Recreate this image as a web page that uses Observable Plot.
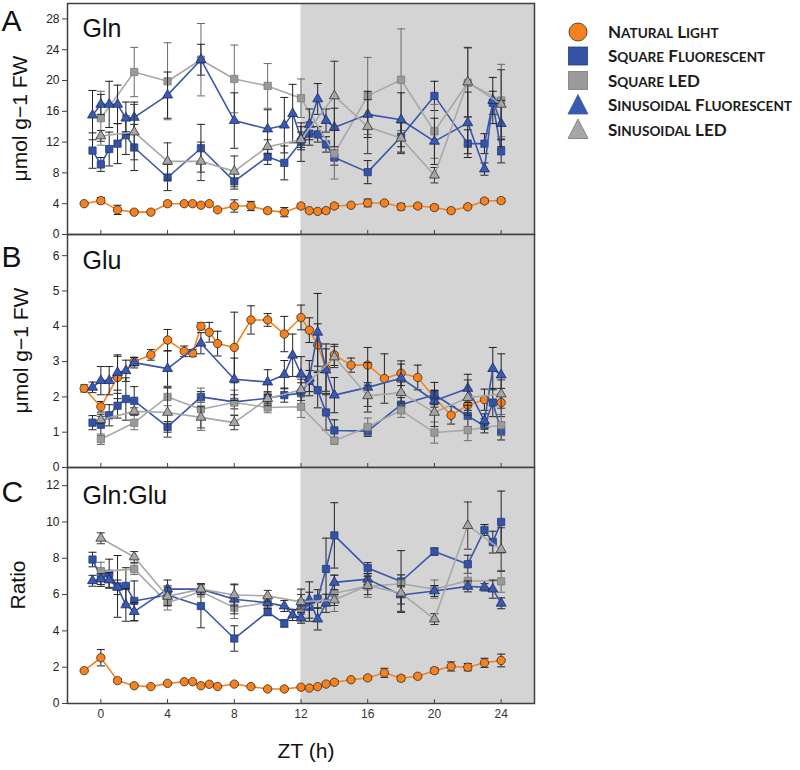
<!DOCTYPE html>
<html><head><meta charset="utf-8">
<script src="https://cdn.jsdelivr.net/npm/d3@7"></script>
<script src="https://cdn.jsdelivr.net/npm/@observablehq/plot@0.6"></script>
<style>
body{margin:0;background:#fff;}
#wrap{position:relative;width:800px;height:770px;overflow:hidden;}
#plots{position:absolute;left:0;top:0;}
#plots svg{display:block;overflow:visible;}
#legend{position:absolute;left:0;top:0;pointer-events:none;}
</style></head>
<body><div id="wrap"><div id="plots"></div><svg id="legend" width="800" height="770"></svg></div>
<script>
// ---------- data ----------
const seriesNames = ["Natural Light","Square Fluorescent","Square LED","Sinusoidal Fluorescent","Sinusoidal LED"];
const xTicks = [0,4,8,12,16,20,24];
const darkPeriod = [{start: 12, end: 26}];

const tNat  = [-1,0,1,2,3,4,5,5.5,6,6.5,7,8,9,10,11,12,12.5,13,13.5,14,15,16,17,18,19,20,21,22,23,24];
const tSqF  = [-0.5,0,0.5,1,1.5,2,4,6,8,10,11,12,12.5,13,13.5,14,16,18,20,22,23,23.5,24];
const tLED  = [0,2,4,6,8,10,12,14,16,18,20,22,24];
const tSinF = [-0.5,0,0.5,1,1.5,2,4,6,8,10,11,11.5,12,12.5,13,13.5,14,16,18,20,22,23,23.5,24];

// Panel A: Gln (µmol g-1 FW)
const glnNat     = [4.0,4.4,3.2,2.9,2.9,4.0,4.0,4.0,3.8,4.0,3.2,3.7,3.7,3.1,2.9,3.7,3.1,3.0,3.1,3.7,3.8,4.1,4.1,3.6,3.7,3.5,3.1,3.6,4.35,4.4];
const glnNatErr  = [0.2,0.4,0.6,0.2,0.2,0.3,0.2,0.2,0.2,0.2,0.2,0.8,0.6,0.3,0.6,0.3,0.2,0.2,0.3,0.3,0.2,0.5,0.2,0.4,0.3,0.3,0.3,0.2,0.3,0.3];
const glnSqF     = [10.9,9.1,11.1,11.8,12.9,11.3,7.4,11.2,6.9,10.1,9.3,12.0,13.1,13.0,11.7,10.0,8.1,12.7,18.0,11.8,11.8,17.1,10.8];
const glnSqFErr  = [2.3,0.9,2.2,2.6,2.5,3.0,1.7,3.1,1.0,1.0,2.2,2.5,1.5,1.0,1.0,1.0,1.5,2.0,1.9,1.8,1.3,1.5,1.5];
const glnSqL     = [15.1,21.1,19.9,22.7,20.2,19.3,17.7,10.5,18.0,20.1,13.4,19.7,17.4];
const glnSqLErr  = [3.5,3.2,5.0,4.7,4.4,2.9,2.5,3.3,5.0,6.6,3.5,4.5,4.7];
const glnSinF    = [15.5,16.9,16.9,16.9,15.1,15.2,18.1,22.7,14.8,13.7,14.2,15.7,12.5,14.3,17.6,14.8,13.9,15.6,14.9,12.1,14.5,8.5,17.4,14.4];
const glnSinFErr = [3.2,1.3,3.0,2.5,2.1,2.0,3.0,2.0,3.6,2.5,3.6,3.8,1.5,2.0,2.0,1.5,2.5,3.0,3.5,3.0,4.0,0.8,3.0,3.0];
const glnSinL    = [12.8,13.3,9.5,9.5,8.2,11.4,12.3,18.0,14.0,12.5,7.7,19.8,16.9];
const glnSinLErr = [0.7,3.6,2.4,2.5,2.0,0.9,1.0,4.5,3.5,2.0,1.0,4.5,4.5];

// Panel B: Glu (µmol g-1 FW)
const gluNat     = [2.24,1.72,2.55,3.0,3.19,3.61,3.29,3.24,4.0,3.83,3.51,3.4,4.18,4.18,3.78,4.25,3.89,3.47,2.8,3.19,2.9,2.9,2.52,2.67,2.55,1.98,1.48,1.77,1.92,1.84];
const gluNatErr  = [0.1,0.15,0.6,0.12,0.15,0.3,0.15,0.1,0.1,0.28,0.35,1.0,0.4,0.18,0.5,0.35,0.35,0.6,0.7,0.3,0.2,0.5,0.7,0.35,0.35,0.2,0.25,0.15,0.3,0.4];
const gluSqF     = [1.27,1.21,1.48,1.75,1.94,1.89,1.15,2.0,1.86,1.96,2.05,2.1,2.45,2.19,1.56,1.05,1.03,1.78,2.06,1.46,1.18,1.84,1.03];
const gluSqFErr  = [0.2,0.3,0.3,0.35,0.6,0.4,0.15,0.15,0.2,0.15,0.2,0.3,0.3,0.5,0.5,0.3,0.15,0.2,0.35,0.3,0.2,0.4,0.25];
const gluSqL     = [0.8,1.27,2.0,1.65,1.84,1.7,1.72,0.76,1.15,1.62,0.99,1.06,1.2];
const gluSqLErr  = [0.15,0.2,0.25,0.6,0.35,0.15,0.3,0.1,0.25,0.2,0.3,0.3,0.3];
const gluSinF    = [2.27,2.46,2.46,2.69,2.74,2.97,2.8,3.52,2.5,2.42,2.63,3.18,2.64,2.53,3.83,2.76,2.05,2.27,2.53,1.89,2.24,1.32,2.8,2.62];
const gluSinFErr = [0.15,0.4,0.4,0.5,0.3,0.15,0.5,0.3,0.6,0.35,0.4,0.6,0.5,0.5,1.1,0.6,0.5,0.7,0.4,0.3,0.4,0.2,0.6,0.6];
const gluSinL    = [1.35,1.59,1.56,1.42,1.27,1.95,2.2,3.13,2.03,2.12,1.56,1.98,2.08];
const gluSinLErr = [0.1,0.1,0.7,0.3,0.2,0.2,0.3,0.3,0.3,0.3,0.4,0.5,0.4];

// Panel C: Gln:Glu ratio
const ratNat     = [1.81,2.52,1.26,0.98,0.93,1.11,1.2,1.2,0.98,1.06,0.94,1.07,0.93,0.8,0.8,0.9,0.85,0.93,1.07,1.17,1.31,1.41,1.69,1.39,1.5,1.81,2.04,2.0,2.24,2.37];
const ratNatErr  = [0.05,0.45,0.1,0.05,0.05,0.08,0.05,0.05,0.05,0.05,0.05,0.08,0.05,0.05,0.05,0.08,0.05,0.05,0.08,0.08,0.08,0.1,0.25,0.15,0.1,0.15,0.25,0.2,0.25,0.35];
const ratSqF     = [7.93,6.95,7.15,6.45,6.48,5.65,5.98,5.37,3.58,5.04,4.41,5.5,5.33,5.77,7.41,9.26,7.46,6.72,8.37,7.67,9.56,8.89,10.0];
const ratSqFErr  = [0.4,0.5,0.8,1.7,1.0,1.1,0.5,1.2,0.7,0.2,0.2,0.8,0.8,0.5,1.7,1.8,0.3,1.7,0.2,0.5,0.3,0.6,1.7];
const ratSqL     = [7.28,7.4,5.55,6.17,5.28,5.55,5.1,6.07,6.45,6.6,6.3,6.76,6.73];
const ratSqLErr  = [0.5,0.3,0.4,0.3,0.6,0.3,0.6,1.0,0.6,0.5,0.5,0.4,0.6];
const ratSinF    = [6.76,6.85,6.8,6.4,5.43,5.06,6.3,6.3,5.74,5.55,5.37,4.87,4.72,5.7,4.65,5.52,6.67,6.85,5.98,6.2,6.45,6.4,6.3,5.52];
const ratSinFErr = [0.3,0.3,0.4,0.4,0.9,0.5,0.5,0.3,0.8,0.3,0.3,0.3,0.3,1.0,0.6,0.5,0.4,0.3,0.5,0.3,0.3,0.2,0.5,0.3];
const ratSinL    = [9.1,8.07,5.9,6.3,5.98,5.93,5.6,5.7,6.5,6.08,4.65,9.8,8.48];
const ratSinLErr = [0.3,0.3,0.5,0.3,0.6,0.3,0.4,0.3,0.5,1.0,0.3,1.3,1.2];

// ---------- styles ----------
const times = [tNat, tSqF, tLED, tSinF, tLED];
const styles = [
  {symbol: "circle",   r: 4.2, fill: "#f5821f", stroke: "#3a2a1a", line: "#f5821f", err: "#222"},
  {symbol: "square",   r: 4.1, fill: "#3453a6", stroke: "#243c80", line: "#3a56a8", err: "#222"},
  {symbol: "square",   r: 4.1, fill: "#9a9a9a", stroke: "#7a7a7a", line: "#a8a8a8", err: "#6a6a6a"},
  {symbol: "triangle", r: 3.7, fill: "#3a5ab0", stroke: "#1c2a66", line: "#3a56a8", err: "#222"},
  {symbol: "triangle", r: 3.7, fill: "#a6a6a6", stroke: "#333",    line: "#a8a8a8", err: "#333"}
];
const cap = {draw(ctx, size) { const w = Math.sqrt(size / Math.PI); ctx.moveTo(-w, 0); ctx.lineTo(w, 0); }};

const panels = [
  {letter: "A", title: "Gln", yLabel: "μmol g−1 FW", yDomain: [0, 30], yTicks: [0,4,8,12,16,20,24,28],
   values: [glnNat, glnSqF, glnSqL, glnSinF, glnSinL], errors: [glnNatErr, glnSqFErr, glnSqLErr, glnSinFErr, glnSinLErr],
   marginTop: 3, marginBottom: 0, height: 234, letterDy: 6, titleDy: 16, labelX: 19, last: false},
  {letter: "B", title: "Glu", yLabel: "μmol g−1 FW", yDomain: [0, 6.6], yTicks: [0,1,2,3,4,5,6],
   values: [gluNat, gluSqF, gluSqL, gluSinF, gluSinL], errors: [gluNatErr, gluSqFErr, gluSqLErr, gluSinFErr, gluSinLErr],
   marginTop: 0, marginBottom: 0, height: 233, letterDy: 11, titleDy: 17, labelX: 20, last: false},
  {letter: "C", title: "Gln:Glu", yLabel: "Ratio", yDomain: [0, 13], yTicks: [0,2,4,6,8,10,12],
   values: [ratNat, ratSqF, ratSqL, ratSinF, ratSinL], errors: [ratNatErr, ratSqFErr, ratSqLErr, ratSinFErr, ratSinLErr],
   marginTop: 0, marginBottom: 67, height: 303, letterDy: 13, titleDy: 19, labelX: 17, last: true}
];

const container = document.getElementById("plots");
const overlay = d3.select("#legend");
let panelOffset = 0;
for (const p of panels) {
  const marks = [
    Plot.rect(darkPeriod, {x1: "start", x2: "end", y1: p.yDomain[0], y2: p.yDomain[1], fill: "#d4d4d4"})
  ];
  seriesNames.forEach((name, i) => {
    const st = styles[i];
    const d = p.values[i].map((v, j) => ({series: name, t: times[i][j], v, lo: v - p.errors[i][j], hi: v + p.errors[i][j]}));
    marks.push(
      Plot.ruleX(d, {x: "t", y1: "lo", y2: "hi", stroke: st.err, strokeWidth: 1}),
      Plot.dot(d, {x: "t", y: "lo", symbol: cap, r: 4, fill: "none", stroke: st.err, strokeWidth: 1}),
      Plot.dot(d, {x: "t", y: "hi", symbol: cap, r: 4, fill: "none", stroke: st.err, strokeWidth: 1}),
      Plot.line(d, {x: "t", y: "v", stroke: st.line, strokeWidth: 1.6}),
      Plot.dot(d, {x: "t", y: "v", symbol: st.symbol, r: st.r, fill: st.fill, stroke: st.stroke, strokeWidth: 0.8})
    );
  });
  marks.push(
    Plot.frame({stroke: "#404040", strokeWidth: 1.5}),
    Plot.axisY({ticks: p.yTicks, tickSize: 5, tickPadding: 3, fontSize: 12, label: null, stroke: "#404040", tickFormat: d => String(d)}),
    Plot.axisX({ticks: xTicks, tickSize: 4, dy: -4, tickFormat: () => "", label: null, stroke: "#404040"}),
    Plot.text([p.title], {frameAnchor: "top-left", dx: 15, dy: p.titleDy, lineAnchor: "top", textAnchor: "start", fontSize: 25, fill: "#111", text: d => d}),
    Plot.text([p.letter], {frameAnchor: "top-left", dx: -66, dy: p.letterDy, lineAnchor: "top", textAnchor: "start", fontSize: 30, fill: "#111", text: d => d})
  );
  if (p.last) {
    marks.push(
      Plot.axisX({ticks: xTicks, tickSize: 0, tickPadding: 6, fontSize: 12, label: null, fill: "#333", tickFormat: d => String(d)}),
      Plot.text(["ZT (h)"], {frameAnchor: "bottom", dx: 5, dy: 54, fontSize: 21, fill: "#111", text: d => d})
    );
  }
  const chart = Plot.plot({
    width: 540, height: p.height,
    marginLeft: 67, marginRight: 6, marginTop: p.marginTop, marginBottom: p.marginBottom,
    style: {fontFamily: "'Liberation Sans', Arial, sans-serif", fontSize: "12px", background: "transparent", overflow: "visible", color: "#222"},
    x: {domain: [-2, 26]},
    y: {domain: p.yDomain},
    marks
  });
  container.appendChild(chart);
  // rotated y-axis title, centred on the panel frame
  const frameMid = panelOffset + p.marginTop + (p.height - p.marginTop - p.marginBottom) / 2;
  overlay.append("text")
    .attr("transform", `translate(${p.labelX},${frameMid}) rotate(-90)`)
    .attr("text-anchor", "middle").attr("dominant-baseline", "central")
    .attr("font-family", "'Liberation Sans', Arial, sans-serif").attr("font-size", 21).attr("fill", "#111")
    .text(p.yLabel);
  panelOffset += p.height;
}

// ---------- legend ----------
const legY = [32, 56, 80.5, 105, 129.5];
const legX = 578, legTextX = 608;
seriesNames.forEach((name, i) => {
  const st = styles[i], y = legY[i];
  if (st.symbol === "circle") {
    overlay.append("circle").attr("cx", legX).attr("cy", y).attr("r", 9).attr("fill", st.fill).attr("stroke", "#3a2a1a").attr("stroke-width", 0.8);
  } else if (st.symbol === "square") {
    overlay.append("rect").attr("x", legX - 9.5).attr("y", y - 9).attr("width", 19).attr("height", 18).attr("fill", st.fill).attr("stroke", st.stroke).attr("stroke-width", 0.8);
  } else {
    overlay.append("path").attr("d", `M${legX},${y - 10.5}L${legX + 10},${y + 9}L${legX - 10},${y + 9}Z`).attr("fill", st.fill).attr("stroke", i === 4 ? "#777" : st.fill).attr("stroke-width", 0.8);
  }
  const text = overlay.append("text").attr("x", legTextX).attr("y", y + 6.3)
    .attr("font-family", "Lato, 'Open Sans', sans-serif").attr("font-weight", 700).attr("font-size", 17).attr("fill", "#1a1a1a");
  name.split(" ").forEach((word, k) => {
    const prefix = k > 0 ? " " : "";
    if (word === word.toUpperCase()) {
      text.append("tspan").text(prefix + word);
    } else {
      text.append("tspan").text(prefix + word[0]);
      text.append("tspan").attr("font-size", 13.6).text(word.slice(1).toUpperCase());
    }
  });
});
</script>
</body></html>
